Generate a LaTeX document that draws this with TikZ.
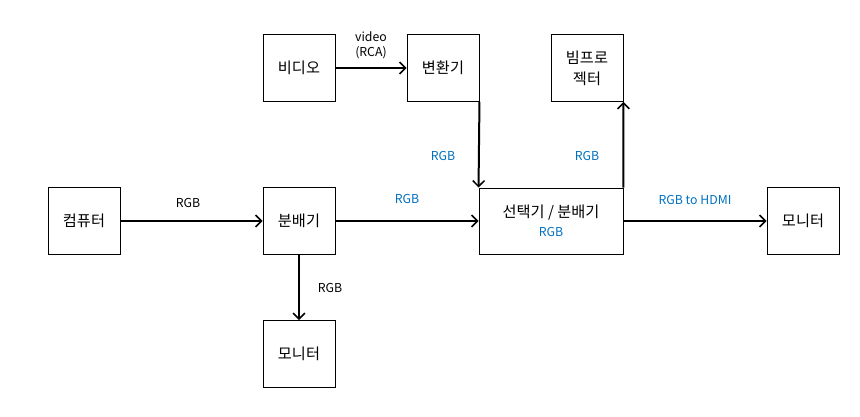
\documentclass[tikz,border=0pt]{standalone}
\usepackage{fontspec}
\setmainfont{Noto Sans CJK KR}
\usepackage{tikz}
\usetikzlibrary{arrows.meta}
\definecolor{linkblue}{RGB}{0,112,192}

\begin{document}
\begin{tikzpicture}[
		x=0.03cm,
		y=-0.03cm,
		box/.style={
			draw,
			line width=0.8pt,
			align=center,
			font=\fontsize{13}{16}\selectfont,
			minimum width=2.16cm,
			minimum height=2.01cm,
			inner sep=2pt
		},
		lbl/.style={font=\fontsize{10.5}{13}\selectfont, inner sep=1pt, align=center},
		arrow/.style={-{Straight Barb[length=5pt,width=10pt,line width=1.3pt]}, line width=0.06cm}
		]
		\useasboundingbox (0,0) rectangle (860,416);
		
		\node[box] (pc) at (84,221) {컴퓨터};
		\node[box] (split) at (299,221) {분배기};
		\node[box] (video) at (299,68) {비디오};
		\node[box] (conv) at (443,68) {변환기};
		\node[box] (beam) at (587,68) {빔프로\\[2pt]젝터};
		\node[box,minimum width=4.32cm,minimum height=1.98cm] (sel) at (551,221)
		{선택기 / 분배기\\{\fontsize{10.5}{13}\selectfont\color{linkblue}RGB}};
		\node[box] (monR) at (803,221) {모니터};
		\node[box] (monB) at (299,354) {모니터};
		
		\draw[arrow] (pc) -- (split);
		\draw[arrow] (split) -- (sel);
		\draw[arrow] (split) -- (monB);
		\draw[arrow] (video) -- (conv);
		\draw[arrow] (conv.south east) -- (sel.north west);
		\draw[arrow] (sel.north east) -- (beam.south east);
		\draw[arrow] (sel) -- (monR);
		
		\node[lbl] (l1) at (188,203) {RGB};
		\node[lbl,text=linkblue] (l2) at (407,199) {RGB};
		\node[lbl] (l3) at (330,288) {RGB};
		\node[lbl] (l4) at (371,45) {video\\(RCA)};
		\node[lbl,text=linkblue] (l5) at (443,156) {RGB};
		\node[lbl,text=linkblue] (l6) at (587,156) {RGB};
		\node[lbl,text=linkblue] (l7) at (695,200) {RGB to HDMI};
		
	\end{tikzpicture}
\end{document}
